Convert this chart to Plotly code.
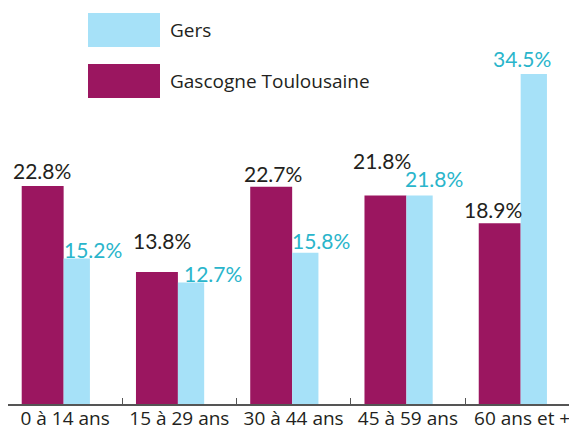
import plotly.graph_objects as go

# age groups and shares (%)
categories = ["0 à 14 ans", "15 à 29 ans", "30 à 44 ans", "45 à 59 ans", "60 ans et +"]
gascogne = [22.8, 13.8, 22.7, 21.8, 18.9]
gers = [15.2, 12.7, 15.8, 21.8, 34.5]

MAROON = "#9B1660"
SKY = "#A6E1F8"
CYAN = "#2AB5CB"
INK = "#231F20"

# hand-placed value labels (pixel shifts from bar top / category centre)
gasc_dx = [-23, -17, -21, -26, -29]
gasc_dy = [6, 22, 4, 25, 4]
gers_dx = [28, 34, 27, 26, 0]
gers_dy = [0, 0, 3, 7, 6]

# the page body adds an 8px margin, so the figure is a bit smaller than the window
PAGE = 8
W, H = 577 - PAGE, 432 - PAGE
ML, MB = 0, 28
PW, PH = W - ML, H - MB


def px(x):
    return (x - PAGE - ML) / PW


def py(y):
    return (H - MB - (y - PAGE)) / PH


fig = go.Figure()
fig.add_trace(go.Bar(x=categories, y=gascogne, name="Gascogne Toulousaine",
                     marker=dict(color=MAROON, line=dict(width=0)),
                     offset=-0.38, width=0.367))
fig.add_trace(go.Bar(x=categories, y=gers, name="Gers",
                     marker=dict(color=SKY, line=dict(width=0)),
                     offset=-0.013, width=0.23))

label_font = dict(family="Lato", size=21)
for i, cat in enumerate(categories):
    fig.add_annotation(x=cat, y=gascogne[i], text=f"{gascogne[i]:.1f}%",
                       showarrow=False, xanchor="center", yanchor="bottom",
                       xshift=gasc_dx[i], yshift=gasc_dy[i] - 5,
                       font=dict(color=INK, **label_font))
    fig.add_annotation(x=cat, y=gers[i], text=f"{gers[i]:.1f}%",
                       showarrow=False, xanchor="center", yanchor="bottom",
                       xshift=gers_dx[i], yshift=gers_dy[i] - 5,
                       font=dict(color=CYAN, **label_font))

# legend drawn by hand: large swatches
legend_items = [("Gers", SKY, 13), ("Gascogne Toulousaine", MAROON, 64)]
for name, col, top in legend_items:
    fig.add_shape(type="rect", xref="paper", yref="paper",
                  x0=px(88), x1=px(160), y0=py(top + 34), y1=py(top),
                  fillcolor=col, line=dict(width=0))
    fig.add_annotation(xref="paper", yref="paper", x=px(168), y=py(top + 17),
                       text=name, showarrow=False, xanchor="left", yanchor="middle",
                       font=dict(family="Open Sans", size=19, color=INK))

fig.update_layout(
    width=W, height=H,
    margin=dict(l=ML, r=0, t=0, b=MB, autoexpand=False),
    paper_bgcolor="white", plot_bgcolor="white",
    barmode="overlay", showlegend=False,
    font=dict(family="Open Sans", color=INK),
)
fig.update_xaxes(type="category", range=[-0.5, 4.48], automargin=False,
                 showline=True, linecolor="#555555", linewidth=1.5,
                 ticks="inside", tickson="boundaries", ticklen=6,
                 tickcolor="#555555", tickwidth=1.2, ticklabelstandoff=-4,
                 tickfont=dict(family="Open Sans", size=19, color=INK),
                 showgrid=False, zeroline=False)
fig.update_yaxes(visible=False, range=[0, PH / 9.565], fixedrange=True,
                 automargin=False)

fig.write_html("out.html")
